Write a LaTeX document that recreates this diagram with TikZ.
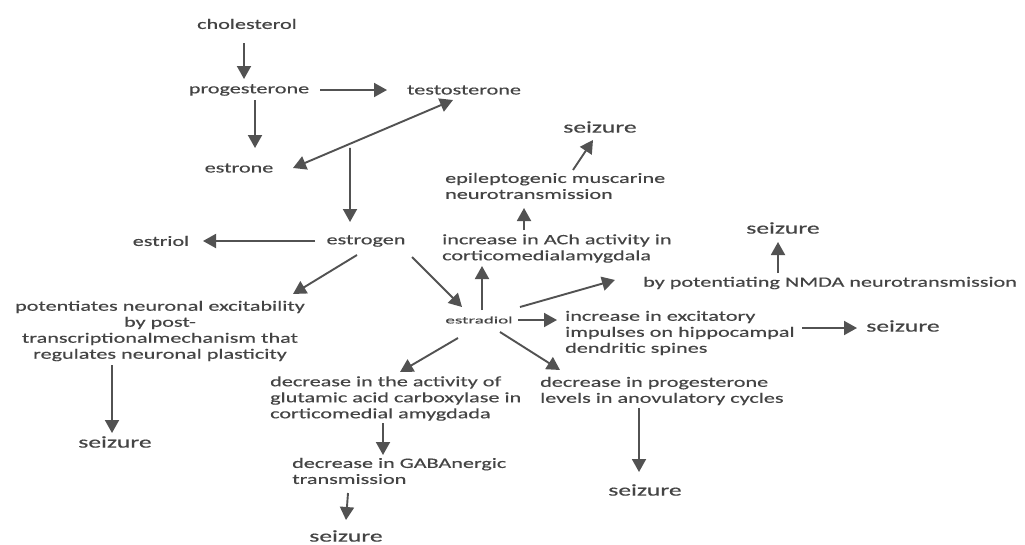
\documentclass[tikz,border=0pt]{standalone}
\usepackage{fontspec}
\setmainfont{Carlito}[FakeStretch=1.55,FakeBold=0.4]
\newfontfamily\tinyf{Carlito}[FakeStretch=1.9,FakeBold=0.3]
\usetikzlibrary{arrows.meta,calc}
\definecolor{textc}{RGB}{68,68,68}
\definecolor{arrc}{RGB}{82,82,82}
\tikzset{
  lbl/.style={inner sep=0pt, text=textc, font=\fontsize{14.3}{16}\selectfont},
  ml/.style={lbl, anchor=west, align=left},
  sz/.style={inner sep=0pt, text=textc, font=\fontsize{16.5}{18}\selectfont},
  arr/.style={draw=arrc, line width=1.9pt, -{Triangle[length=13pt,width=14pt]}},
  darr/.style={draw=arrc, line width=1.9pt, {Triangle[length=13pt,width=14pt]}-{Triangle[length=13pt,width=14pt]}}
}
\begin{document}
\begin{tikzpicture}[x=1pt,y=-1pt]
\useasboundingbox (0,0) rectangle (1025,544);
\fill[white] (0,0) rectangle (1025,544);
% nodes
\node[lbl] (chol) at (247,24) {cholesterol};
\node[lbl] (prog) at (249,90) {progesterone};
\node[lbl] (test) at (464,90) {testosterone};
\node[lbl] (estrone) at (239,168) {estrone};
\node[lbl] (estrogen) at (366,241) {estrogen};
\node[lbl] (estriol) at (161,241) {estriol};
\node[lbl, align=center] (pot) at (160,331) {potentiates neuronal excitability\\by post-\\transcriptionalmechanism that\\regulates neuronal plasticity};
\node[sz] (seizL) at (115,442) {seizure};
\node[inner sep=0pt, text=textc, font=\tinyf\fontsize{10}{12}\selectfont] (estradiol) at (479,320) {estradiol};
\node[ml] (ach) at (442,248.5) {increase in ACh activity in\\corticomedialamygdala};
\node[ml] (epi) at (445,186) {epileptogenic muscarine\\neurotransmission};
\node[sz] (seizT) at (600,127) {seizure};
\node[ml] (nmda) at (643,283) {by potentiating NMDA neurotransmission};
\node[sz] (seizN) at (783,228) {seizure};
\node[ml] (exc) at (565,333) {increase in excitatory\\impulses on hippocampal\\dendritic spines};
\node[sz] (seizR) at (903,326) {seizure};
\node[ml] (glu) at (270,398.5) {decrease in the activity of\\glutamic acid carboxylase in\\corticomedial amygdada};
\node[ml] (gaba) at (292,471) {decrease in GABAnergic\\transmission};
\node[sz] (seizB) at (346,536) {seizure};
\node[ml] (prg) at (540,391) {decrease in progesterone\\levels in anovulatory cycles};
\node[sz] (seizP) at (645,490) {seizure};
% helper coordinates on the double arrow
\coordinate (dA) at ([shift={(54,0)}]estrone.center);
\coordinate (dB) at ([shift={(-11,10)}]test.center);
\coordinate (mid) at ($(dA)!0.356!(dB)$);
% connectors
\draw[arr] ([shift={(-3,19)}]chol.center) -- ([shift={(-5,-11)}]prog.center);
\draw[arr] ([shift={(71,0)}]prog.center) -- ([shift={(-77,0)}]test.center);
\draw[arr] ([shift={(6,10)}]prog.center) -- ([shift={(16,-20)}]estrone.center);
\draw[darr] (dA) -- (dB);
\draw[arr, shorten <=4pt] (mid) -- ([shift={(-16,-19)}]estrogen.center);
\draw[arr] ([shift={(-51,0)}]estrogen.center) -- ([shift={(42,0)}]estriol.center);
\draw[arr] ([shift={(-9,14)}]estrogen.center) -- ([shift={(133,-37)}]pot.center);
\draw[arr] ([shift={(46,16)}]estrogen.center) -- ([shift={(-17,-13)}]estradiol.center);
\draw[arr] ([shift={(-48,34)}]pot.center) -- ([shift={(-3,-9)}]seizL.center);
\draw[arr] ([shift={(3,-10)}]estradiol.center) -- ([shift={(40,17.5)}]ach.west);
\draw[arr] ([shift={(82,-18.5)}]ach.west) -- ([shift={(79,22)}]epi.west);
\draw[arr] ([shift={(128,-16)}]epi.west) -- ([shift={(-7,13)}]seizT.center);
\draw[arr] ([shift={(41,-13)}]estradiol.center) -- ([shift={(-28,-3)}]nmda.west);
\draw[arr] ([shift={(135,-10)}]nmda.west) -- ([shift={(-5,14)}]seizN.center);
\draw[arr] ([shift={(39,0)}]estradiol.center) -- ([shift={(-8,-13)}]exc.west);
\draw[arr] ([shift={(237,-5)}]exc.west) -- ([shift={(-46,2)}]seizR.center);
\draw[arr] ([shift={(-21,18)}]estradiol.center) -- ([shift={(130,-26.5)}]glu.west);
\draw[arr] ([shift={(113,24.5)}]glu.west) -- ([shift={(91,-16)}]gaba.west);
\draw[arr] ([shift={(56,22)}]gaba.west) -- ([shift={(0,-16)}]seizB.center);
\draw[arr] ([shift={(21,12)}]estradiol.center) -- ([shift={(20,-21)}]prg.west);
\draw[arr] ([shift={(99,17)}]prg.west) -- ([shift={(-6,-18)}]seizP.center);
\end{tikzpicture}
\end{document}
